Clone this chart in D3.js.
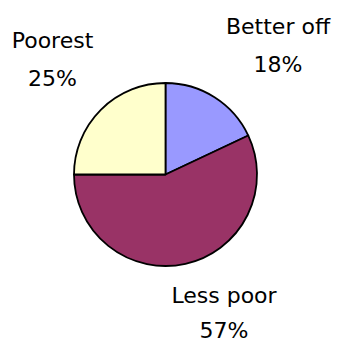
<!DOCTYPE html>
<html>
<head>
<meta charset="utf-8">
<script src="https://cdn.jsdelivr.net/npm/d3@7"></script>
<style>
  body { margin: 0; background: #fff; }
  svg { display: block; }
  text { font-family: "DejaVu Sans", Verdana, sans-serif; font-size: 22px; fill: #000; }
</style>
</head>
<body>
<div id="chart"></div>
<script>
// slice data, clockwise from 12 o'clock
const categories = ["Better off", "Less poor", "Poorest"];
const shares = [18, 57, 25];
const colors = ["#9999FF", "#993366", "#FFFFCC"];

let width = 340;
let height = 343;
let cx = 165.5, cy = 174.5, radius = 91.5;

let svg = d3.select("#chart").append("svg")
  .attr("width", width)
  .attr("height", height);

let pie = d3.pie().sort(null).value(d => d)(shares);
let arc = d3.arc().innerRadius(0).outerRadius(radius);

let g = svg.append("g").attr("transform", `translate(${cx},${cy})`);

g.selectAll("path")
  .data(pie)
  .enter()
  .append("path")
  .attr("d", arc)
  .attr("fill", (d, i) => colors[i])
  .attr("stroke", "#000")
  .attr("stroke-width", 1.8)
  .attr("stroke-linejoin", "round");

// label positions (name baseline, percent baseline below it)
let labelPos = [
  { x: 278, y: 34, gap: 38 },
  { x: 224, y: 303, gap: 35 },
  { x: 52.5, y: 48, gap: 38 }
];

let labels = svg.selectAll("g.lbl")
  .data(pie)
  .enter()
  .append("g")
  .attr("class", "lbl")
  .attr("transform", (d, i) => `translate(${labelPos[i].x},${labelPos[i].y})`);

labels.append("text")
  .attr("text-anchor", "middle")
  .text((d, i) => categories[i]);

labels.append("text")
  .attr("text-anchor", "middle")
  .attr("y", (d, i) => labelPos[i].gap)
  .text(d => d.data + "%");
</script>
</body>
</html>
